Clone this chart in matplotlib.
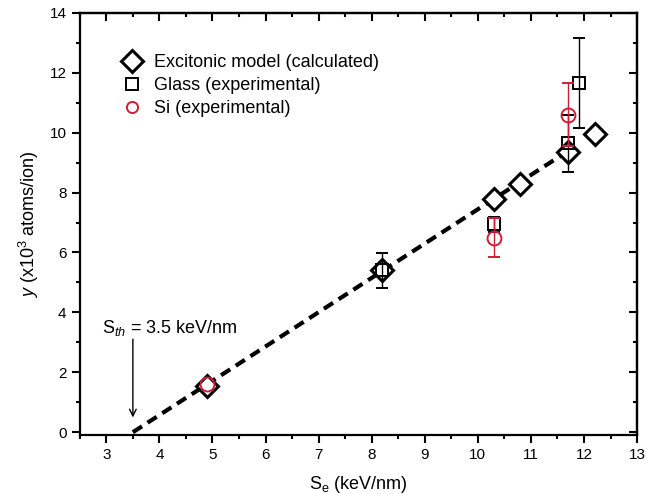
import numpy as np
import matplotlib
matplotlib.use("Agg")
import matplotlib.pyplot as plt
from matplotlib.ticker import MultipleLocator
from matplotlib.lines import Line2D

plt.rcParams['font.family'] = ['Liberation Sans', 'DejaVu Sans']
plt.rcParams['mathtext.fontset'] = 'custom'
plt.rcParams['mathtext.rm'] = 'Liberation Sans'
plt.rcParams['mathtext.it'] = 'Liberation Sans:italic'

# excitonic model (calculated)
model_x = [4.9, 8.2, 10.3, 10.8, 11.7, 12.2]
model_y = [1.55, 5.4, 7.8, 8.3, 9.37, 9.97]

# glass (experimental)
glass_x = [8.2, 10.3, 11.7, 11.9]
glass_y = [5.4, 6.95, 9.65, 11.67]
glass_err = [0.58, 0.25, 0.95, 1.5]

# Si (experimental), first point has no error bar
si_x = [4.9, 10.3, 11.7]
si_y = [1.62, 6.5, 10.6]
si_err = [np.nan, 0.65, 1.05]

# linear fit line
s_th = 3.5
fit_slope = 1.145
fit_x = np.array([s_th, 11.7])

red = '#cc1f36'

fig, ax = plt.subplots(figsize=(6.65, 4.94), dpi=100)
fig.subplots_adjust(left=0.120, right=0.958, top=0.974, bottom=0.119)

ax.plot(fit_x, fit_slope * (fit_x - s_th), color='black', lw=3,
        dashes=(2.6, 1.6), zorder=2)

ax.plot(model_x, model_y, 'D', ms=11.5, mfc='white', mec='black', mew=2.2,
        ls='none', zorder=3)
ax.errorbar(glass_x, glass_y, yerr=glass_err, fmt='s', ms=9, mfc='none',
            mec='black', mew=1.4, ecolor='black', elinewidth=1, capsize=4,
            capthick=1, zorder=4)
ax.errorbar(si_x, si_y, yerr=si_err, fmt='o', ms=10, mfc='none',
            mec=red, mew=1.4, ecolor=red, elinewidth=1, capsize=4,
            capthick=1, zorder=5)

ax.annotate('', xy=(s_th, 0.4), xytext=(s_th, 3.2),
            arrowprops=dict(arrowstyle='->', color='black', lw=1,
                            mutation_scale=12))
ax.text(2.92, 3.32, r'S$_{\mathit{th}}$ = 3.5 keV/nm', fontsize=13,
        va='baseline')

ax.set_xlim(2.5, 13)
ax.set_ylim(-0.1, 14)
ax.xaxis.set_major_locator(MultipleLocator(1))
ax.xaxis.set_minor_locator(MultipleLocator(0.5))
ax.yaxis.set_major_locator(MultipleLocator(2))
ax.yaxis.set_minor_locator(MultipleLocator(1))

ax.tick_params(which='both', direction='out', width=1.5, labelsize=11)
ax.tick_params(which='major', length=6)
ax.tick_params(which='minor', length=3)
for spine in ax.spines.values():
    spine.set_linewidth(1.6)

# inward ticks on top and right, outward on bottom and left
sec_x = ax.secondary_xaxis('top')
sec_x.xaxis.set_major_locator(MultipleLocator(1))
sec_x.xaxis.set_minor_locator(MultipleLocator(0.5))
sec_x.tick_params(which='both', direction='in', width=1.5, labeltop=False)
sec_x.tick_params(which='major', length=6)
sec_x.tick_params(which='minor', length=3)
sec_y = ax.secondary_yaxis('right')
sec_y.yaxis.set_major_locator(MultipleLocator(2))
sec_y.yaxis.set_minor_locator(MultipleLocator(1))
sec_y.tick_params(which='both', direction='in', width=1.5, labelright=False)
sec_y.tick_params(which='major', length=6)
sec_y.tick_params(which='minor', length=3)
for s in list(sec_x.spines.values()) + list(sec_y.spines.values()):
    s.set_linewidth(1.6)

ax.set_xlabel(r'S$_{\mathrm{e}}$ (keV/nm)', fontsize=13, labelpad=8)
ax.set_ylabel(r'$\mathit{y}$ (x10$^3$ atoms/ion)', fontsize=13, labelpad=6)

handles = [
    Line2D([], [], marker='D', ms=11.5, mfc='white', mec='black', mew=2.2, ls='none'),
    Line2D([], [], marker='s', ms=8, mfc='none', mec='black', mew=1.4, ls='none'),
    Line2D([], [], marker='o', ms=8, mfc='none', mec=red, mew=1.4, ls='none'),
]
labels = ['Excitonic model (calculated)', 'Glass (experimental)', 'Si (experimental)']
ax.legend(handles, labels, loc='upper left', bbox_to_anchor=(0.045, 0.94),
          frameon=False, fontsize=13, handletextpad=0.6, labelspacing=0.33,
          handlelength=1.2)

fig.savefig('out.png', dpi=100)
